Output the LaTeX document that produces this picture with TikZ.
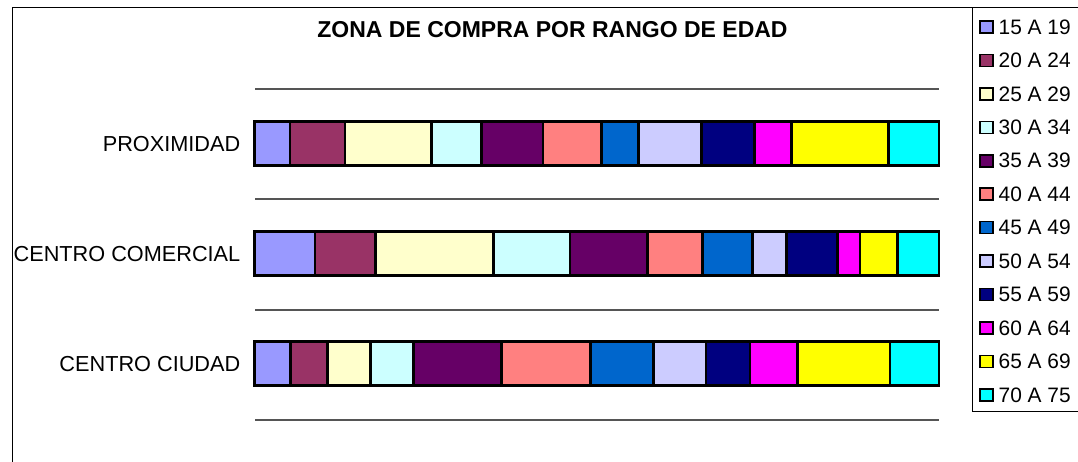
\documentclass[tikz,border=0pt]{standalone}
\usepackage{fontspec}
\setmainfont{Liberation Sans}
\definecolor{c1}{HTML}{9999FF}
\definecolor{c2}{HTML}{993366}
\definecolor{c3}{HTML}{FFFFCC}
\definecolor{c4}{HTML}{CCFFFF}
\definecolor{c5}{HTML}{660066}
\definecolor{c6}{HTML}{FF8080}
\definecolor{c7}{HTML}{0066CC}
\definecolor{c8}{HTML}{CCCCFF}
\definecolor{c9}{HTML}{000080}
\definecolor{c10}{HTML}{FF00FF}
\definecolor{c11}{HTML}{FFFF00}
\definecolor{c12}{HTML}{00FFFF}
\definecolor{gridc}{HTML}{555555}
\tikzset{
  seg/.style={draw=black,line width=2.6pt},
  gridline/.style={draw=gridc,line width=1.4pt},
  frame/.style={draw=black,line width=1.4pt},
  lab/.style={font=\fontsize{21.7}{25}\selectfont,inner sep=0pt},
  legsq/.style={draw=black,line width=1.6pt,minimum width=13pt,minimum height=12pt,inner sep=0pt},
  legtxt/.style={font=\fontsize{20.9}{24}\selectfont,inner sep=0pt,anchor=west},
}
\begin{document}
\begin{tikzpicture}[x=1pt,y=-1pt]
\useasboundingbox (0,0) rectangle (1078,462);
% outer frame
\draw[frame] (12.5,470) -- (12.5,7.5) -- (1085,7.5);
% legend frame
\draw[frame] (972.7,7.5) -- (972.7,411.7) -- (1085,411.7);
% title
\node[font=\bfseries\fontsize{23}{27}\selectfont,inner sep=0pt] (title) at (552.5,30) {ZONA DE COMPRA POR RANGO DE EDAD};
% grid lines
\foreach \y in {89,199,310,420} \draw[gridline] (255,\y) -- (939,\y);
% row 1: PROXIMIDAD
\foreach \a/\b/\c in {254.5/290/c1,290/345/c2,345/431.5/c3,431.5/481.5/c4,481.5/543/c5,543/601.5/c6,601.5/638.5/c7,638.5/701.5/c8,701.5/754.5/c9,754.5/791.5/c10,791.5/888.5/c11,888.5/939/c12}
  \draw[seg,fill=\c] (\a,121.7) rectangle (\b,165.7);
% row 2: CENTRO COMERCIAL
\foreach \a/\b/\c in {254.5/315/c1,315/375.7/c2,375.7/493.3/c3,493.3/570/c4,570/647.3/c5,647.3/702.3/c6,702.3/752.3/c7,752.3/786.7/c8,786.7/837.3/c9,837.3/860/c10,860/897.3/c11,897.3/939/c12}
  \draw[seg,fill=\c] (\a,231.7) rectangle (\b,275.7);
% row 3: CENTRO CIUDAD
\foreach \a/\b/\c in {254.5/290.7/c1,290.7/327.3/c2,327.3/370.7/c3,370.7/413.3/c4,413.3/501.7/c5,501.7/590.7/c6,590.7/653.3/c7,653.3/706/c8,706/750/c9,750/797.3/c10,797.3/890/c11,890/939/c12}
  \draw[seg,fill=\c] (\a,341.7) rectangle (\b,385.7);
% category labels
\node[lab,anchor=east] (prox) at (240.5,143.7) {PROXIMIDAD};
\node[lab,anchor=east] (ccom) at (240.5,253.7) {CENTRO COMERCIAL};
\node[lab,anchor=east] (cciu) at (240.5,363.7) {CENTRO CIUDAD};
% legend
\foreach \t/\c [count=\i] in {15 A 19/c1,20 A 24/c2,25 A 29/c3,30 A 34/c4,35 A 39/c5,40 A 44/c6,45 A 49/c7,50 A 54/c8,55 A 59/c9,60 A 64/c10,65 A 69/c11,70 A 75/c12}{
  \pgfmathsetmacro{\yy}{27+33.45*(\i-1)}
  \node[legsq,fill=\c] (sq\i) at (986.5,\yy) {};
  \node[legtxt] (lt\i) at (998.5,\yy) {\t};
}
\end{tikzpicture}
\end{document}
